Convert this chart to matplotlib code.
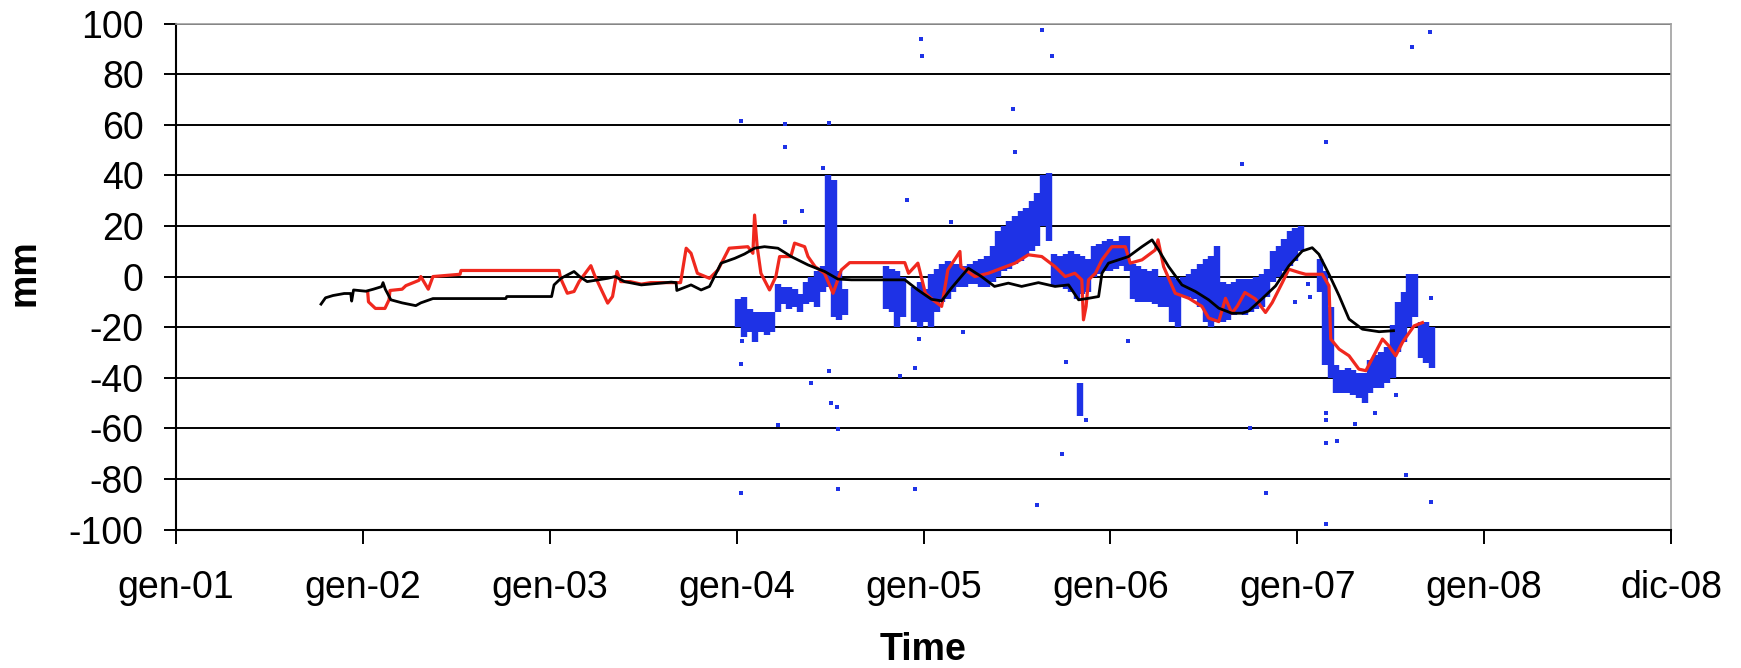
import matplotlib
matplotlib.use("Agg")
import matplotlib.pyplot as plt
import numpy as np

plt.rcParams['font.family'] = ['Liberation Sans', 'DejaVu Sans']
plt.rcParams['axes.unicode_minus'] = False

# ---------------- data (decimal years, mm) ----------------
black_t = [2001.776, 2001.80, 2001.84, 2001.90, 2001.935, 2001.94, 2001.95, 2002.016, 2002.056, 2002.10,
           2002.108, 2002.12, 2002.15, 2002.21, 2002.283, 2002.31, 2002.375, 2002.765, 2002.77, 2003.01,
           2003.023, 2003.06, 2003.13, 2003.16, 2003.20, 2003.31, 2003.35, 2003.40, 2003.49, 2003.65,
           2003.676, 2003.68, 2003.756, 2003.81, 2003.855, 2003.917, 2003.99, 2004.042, 2004.096, 2004.149,
           2004.221, 2004.292, 2004.382, 2004.471, 2004.542, 2004.614, 2004.90, 2004.97, 2005.043, 2005.097,
           2005.15, 2005.24, 2005.31, 2005.38, 2005.454, 2005.525, 2005.615, 2005.704, 2005.776, 2005.83,
           2005.883, 2005.937, 2005.955, 2005.99, 2006.097, 2006.169, 2006.223, 2006.258, 2006.312, 2006.383,
           2006.455, 2006.526, 2006.58, 2006.65, 2006.705, 2006.74, 2006.81, 2006.884, 2006.955, 2007.027,
           2007.08, 2007.116, 2007.17, 2007.224, 2007.277, 2007.349, 2007.438, 2007.515]
black_v = [-10.9, -8.4, -7.5, -6.7, -6.7, -9.7, -5.3, -5.8, -5.0, -4.0,
           -2.4, -5.0, -9.2, -10.4, -11.5, -10.4, -8.7, -8.7, -7.9, -7.9,
           -3.3, -0.7, 2.0, 0.0, -2.0, -0.7, 0.0, -2.0, -3.3, -2.2,
           -2.4, -5.5, -3.3, -5.3, -3.9, 5.3, 7.2, 8.9, 11.2, 11.8,
           11.2, 7.9, 4.6, 2.0, -1.0, -1.3, -1.3, -5.3, -9.0, -9.6,
           -4.5, 3.3, 0.0, -3.9, -2.6, -3.9, -2.4, -3.9, -3.3, -9.2,
           -8.6, -7.9, 1.3, 5.3, 7.9, 11.8, 14.5, 10.5, 3.9, -3.3,
           -5.9, -9.2, -12.5, -14.5, -14.5, -13.6, -8.9, -3.7, 4.2, 10.1,
           11.4, 8.8, 0.9, -7.6, -16.8, -20.8, -21.8, -21.4]

red_t = [2002.026, 2002.03, 2002.067, 2002.118, 2002.14, 2002.145, 2002.21, 2002.23, 2002.30, 2002.31,
         2002.35, 2002.375, 2002.52, 2002.525, 2003.05, 2003.058, 2003.094, 2003.13, 2003.157, 2003.19,
         2003.22, 2003.24, 2003.264, 2003.31, 2003.336, 2003.36, 2003.38, 2003.43, 2003.49, 2003.54,
         2003.70, 2003.73, 2003.756, 2003.79, 2003.855, 2003.90, 2003.96, 2004.06, 2004.087, 2004.096,
         2004.11, 2004.13, 2004.176, 2004.21, 2004.23, 2004.29, 2004.31, 2004.364, 2004.382, 2004.42,
         2004.47, 2004.516, 2004.56, 2004.605, 2004.90, 2004.92, 2004.97, 2005.01, 2005.05, 2005.097,
         2005.12, 2005.13, 2005.195, 2005.20, 2005.275, 2005.347, 2005.418, 2005.49, 2005.561, 2005.633,
         2005.704, 2005.758, 2005.81, 2005.847, 2005.856, 2005.87, 2005.883, 2005.92, 2005.955, 2006.008,
         2006.08, 2006.106, 2006.169, 2006.24, 2006.255, 2006.285, 2006.347, 2006.42, 2006.49, 2006.526,
         2006.58, 2006.616, 2006.65, 2006.68, 2006.72, 2006.777, 2006.83, 2006.866, 2006.92, 2006.955,
         2007.01, 2007.045, 2007.134, 2007.17, 2007.179, 2007.224, 2007.277, 2007.33, 2007.367, 2007.40,
         2007.456, 2007.49, 2007.527, 2007.563, 2007.60, 2007.625, 2007.67]
red_v = [-6.3, -10.0, -12.6, -12.6, -9.2, -5.5, -5.0, -3.6, -1.5, 0.0,
         -5.0, 0.0, 0.9, 2.4, 2.4, -0.7, -6.6, -5.9, -2.0, 1.3,
         4.3, 0.5, -3.3, -10.5, -7.9, 2.0, -2.0, -2.0, -3.0, -2.4,
         -2.4, 11.2, 9.2, 1.3, -0.7, 2.6, 11.2, 11.8, 9.2, 24.3,
         11.8, 1.3, -5.3, 0.0, 7.9, 7.9, 13.2, 11.8, 7.9, 3.9,
         1.3, -6.6, 2.6, 5.5, 5.5, 1.3, 5.3, -6.6, -9.2, -11.8,
         -2.0, 2.6, 9.9, 3.9, 0.0, 1.3, 3.3, 5.3, 8.6, 7.9,
         3.9, 0.0, 1.3, -1.3, -17.1, -11.8, -1.3, 1.3, 6.6, 11.8,
         11.8, 5.3, 6.6, 10.5, 14.5, 3.9, -6.6, -8.6, -11.8, -16.4,
         -17.8, -8.6, -14.5, -11.6, -6.3, -8.9, -14.2, -10.3, -2.4, 2.9,
         1.6, 0.9, 0.9, -3.7, -24.7, -28.7, -31.3, -36.6, -37.2, -32.6,
         -24.7, -27.4, -31.3, -26.0, -22.1, -19.5, -18.2]

# dense blue measurement clouds: time, lower and upper extent
blue_t = [2004.01, 2004.04, 2004.07, 2004.10, 2004.13, 2004.16, 2004.19, 2004.22, 2004.25, 2004.28,
          2004.31, 2004.34, 2004.37, 2004.40, 2004.43, 2004.46, 2004.49, 2004.52, 2004.55, 2004.58,
          2004.80, 2004.83, 2004.86, 2004.89, 2004.95, 2004.98, 2005.01, 2005.04, 2005.07, 2005.10,
          2005.13, 2005.16, 2005.19, 2005.22, 2005.25, 2005.28, 2005.31, 2005.34, 2005.37, 2005.40,
          2005.43, 2005.46, 2005.49, 2005.52, 2005.55, 2005.58, 2005.61, 2005.64, 2005.67, 2005.70,
          2005.73, 2005.76, 2005.79, 2005.82, 2005.85, 2005.88, 2005.91, 2005.94, 2005.97, 2006.00,
          2006.03, 2006.06, 2006.09, 2006.12, 2006.15, 2006.18, 2006.21, 2006.24, 2006.27, 2006.30,
          2006.33, 2006.36, 2006.39, 2006.42, 2006.45, 2006.48, 2006.51, 2006.54, 2006.57, 2006.60,
          2006.63, 2006.66, 2006.69, 2006.72, 2006.75, 2006.78, 2006.81, 2006.84, 2006.87, 2006.90,
          2006.93, 2006.96, 2006.99, 2007.02, 2007.12, 2007.15, 2007.18, 2007.21, 2007.24, 2007.27,
          2007.30, 2007.33, 2007.36, 2007.39, 2007.42, 2007.45, 2007.48, 2007.51, 2007.54, 2007.57,
          2007.60, 2007.63, 2007.66, 2007.69, 2007.72, 2005.84]
blue_lo = [-20, -24, -22, -26, -22, -23, -22, -14, -11, -13,
           -12, -14, -11, -10, -12, -6, -4, -16, -17, -15,
           -13, -14, -20, -16, -18, -20, -18, -20, -14, -10,
           -9, -6, -4, -4, -3, -3, -4, -4, -2, 0,
           2, 3, 5, 6, 8, 10, 12, 20, 14, -4,
           -4, -5, -6, -9, -7, -6, 0, 1, 2, 2,
           3, 4, 2, -9, -10, -10, -10, -11, -12, -12,
           -18, -20, -8, -8, -9, -12, -18, -20, -18, -18,
           -17, -15, -14, -15, -14, -13, -12, -8, -2, 0,
           2, 4, 6, 10, -6, -35, -40, -46, -46, -46,
           -47, -48, -50, -46, -44, -44, -42, -40, -30, -26,
           -20, -16, -32, -34, -36, -55]
blue_hi = [-9, -8, -13, -14, -14, -14, -14, -3, -4, -4,
           -5, -7, -2, 0, 2, 4, 40, 38, 2, -5,
           4, 3, 2, 0, -4, -2, -5, 1, 3, 5,
           6, 5, 5, 4, 5, 6, 7, 8, 12, 18,
           20, 22, 24, 26, 27, 30, 33, 40, 41, 9,
           8, 9, 10, 9, 8, 7, 12, 13, 14, 15,
           14, 16, 16, 5, 4, 3, 2, 3, 0, 0,
           0, -1, 0, 1, 3, 5, 7, 8, 12, -2,
           -3, -2, -1, -1, -1, 0, 1, 3, 10, 12,
           15, 18, 19, 20, 7, 2, -12, -35, -37, -36,
           -37, -38, -38, -33, -31, -30, -28, -19, -10, -6,
           1, 1, -18, -18, -20, -42]

# isolated blue outliers
blue_pt_t = [2005.634, 2004.987, 2004.993, 2005.685, 2005.48, 2005.49, 2004.022, 2004.258, 2004.494, 2004.258,
             2004.46, 2004.91, 2005.145, 2004.258, 2004.35, 2005.76, 2005.87, 2005.74, 2004.022, 2004.03,
             2004.494, 2004.398, 2004.505, 2004.535, 2004.224, 2004.545, 2004.956, 2004.874, 2004.54, 2004.022,
             2004.956, 2005.607, 2005.213, 2006.095, 2004.977, 2007.708, 2007.613, 2007.156, 2006.707, 2007.156,
             2007.213, 2007.156, 2007.31, 2006.748, 2006.835, 2007.156, 2007.58, 2007.718, 2007.718, 2007.526,
             2007.415, 2007.156, 2006.99, 2007.06, 2007.07]
blue_pt_v = [97.4, 93.9, 87.3, 87.3, 66.3, 49.4, 61.5, 60.3, 60.8, 51.1,
             42.7, 30.1, 21.7, 21.7, 25.9, -33.8, -56.5, -70.0, -34.7, -25.5,
             -37.3, -42.2, -49.8, -51.5, -58.7, -60.4, -36.3, -39.3, -83.9, -85.4,
             -83.9, -90.2, -22.0, -25.4, -24.5, 96.5, 90.6, 53.1, 44.4, -65.8,
             -65.0, -56.5, -58.2, -60.0, -85.5, -97.7, -78.4, -89.0, -8.6, -46.7,
             -54.0, -54.0, -10.0, -3.0, -8.0]

xtick_pos = [2001, 2002, 2003, 2004, 2005, 2006, 2007, 2008, 2009]
xtick_lab = ["gen-01", "gen-02", "gen-03", "gen-04", "gen-05", "gen-06", "gen-07", "gen-08", "dic-08"]
ytick_pos = [-100, -80, -60, -40, -20, 0, 20, 40, 60, 80, 100]

# ---------------- figure ----------------
W, H = 1741, 668
fig = plt.figure(figsize=(W / 100, H / 100), dpi=100)
ax = fig.add_axes([176 / W, 1 - 529.6 / H, (1671 - 176) / W, (529.6 - 23.5) / H])

BLUE = "#1e32e6"
RED = "#f0281e"

ax.vlines(blue_t, blue_lo, blue_hi, colors=BLUE, linewidth=4.6, zorder=2)
ax.scatter(blue_pt_t, blue_pt_v, s=5, marker="s", color=BLUE, linewidths=0, zorder=2)
ax.plot(red_t, red_v, color=RED, linewidth=2.3, zorder=3)
ax.plot(black_t, black_v, color="black", linewidth=2.0, zorder=4)

ax.set_xlim(2001, 2009)
ax.set_ylim(-100, 100)
ax.set_xticks(xtick_pos)
ax.set_xticklabels(xtick_lab)
ax.set_yticks(ytick_pos)

ax.yaxis.grid(True, color="black", linewidth=1.4)
ax.xaxis.grid(False)
ax.set_axisbelow(True)

for s in ("top", "right"):
    ax.spines[s].set_color("#a0a0a0")
    ax.spines[s].set_linewidth(1.2)
for s in ("left", "bottom"):
    ax.spines[s].set_color("black")
    ax.spines[s].set_linewidth(1.5)

ax.tick_params(axis="y", direction="out", length=8.3, width=1.4, pad=15, labelsize=27, colors="black")
ax.tick_params(axis="x", direction="out", length=9.8, width=1.4, pad=19, labelsize=27, colors="black")

ax.set_ylabel("mm", fontsize=27, fontweight="bold", va="center")
ax.yaxis.set_label_coords((25 - 176) / 1495, (529.6 - 273) / 506)
ax.set_xlabel("Time", fontsize=27, fontweight="bold", va="center")
ax.xaxis.set_label_coords(0.5, (529.6 - 650) / 506)

fig.savefig("out.png", dpi=100)
